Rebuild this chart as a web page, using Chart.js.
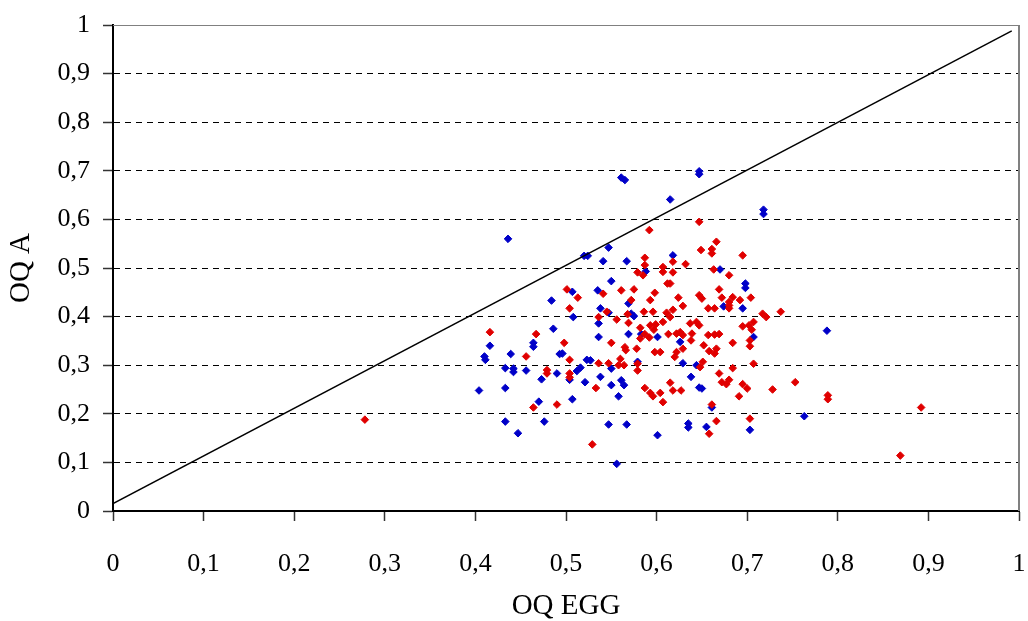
<!DOCTYPE html>
<html><head><meta charset="utf-8">
<script src="https://cdn.jsdelivr.net/npm/chart.js@4.4.0/dist/chart.umd.min.js"></script>
<style>html,body{margin:0;padding:0;background:#fff}#wrap{width:1028px;height:621px}</style>
</head><body><div id="wrap"><canvas id="c" width="1028" height="621"></canvas></div>
<script>
const tickValues = [0,0.1,0.2,0.3,0.4,0.5,0.6,0.7,0.8,0.9,1];
const tickLabels = ['0','0,1','0,2','0,3','0,4','0,5','0,6','0,7','0,8','0,9','1'];
const xTitle = 'OQ EGG';
const yTitle = 'OQ A';

const blueX = [0.436,0.484,0.486,0.416,0.464,0.464,0.410,0.411,0.439,0.493,0.433,0.442,0.442,0.456,0.490,0.473,0.404,0.433,0.470,0.433,0.476,0.447,
0.561,0.565,0.647,0.647,0.615,0.520,0.524,0.547,0.541,0.567,0.618,0.588,0.550,0.507,0.535,0.569,0.538,0.547,0.572,0.575,0.508,
0.536,0.536,0.569,0.601,0.583,0.626,0.496,0.523,0.527,0.579,0.629,0.644,0.550,0.504,0.512,0.516,0.521,0.538,0.550,0.561,0.564,0.558,0.638,0.647,0.650,0.507,0.547,0.567,0.601,0.635,0.635,0.655,0.556,
0.718,0.718,0.670,0.698,0.698,0.674,0.695,0.788,0.707,0.661,0.703,0.763];
const blueY = [0.560,0.433,0.375,0.340,0.346,0.338,0.318,0.311,0.323,0.323,0.294,0.293,0.286,0.289,0.283,0.271,0.248,0.253,0.225,0.184,0.184,0.160,
0.686,0.681,0.699,0.693,0.641,0.525,0.525,0.542,0.514,0.514,0.526,0.493,0.473,0.451,0.454,0.427,0.417,0.408,0.406,0.401,0.399,
0.386,0.358,0.364,0.358,0.364,0.348,0.324,0.311,0.310,0.307,0.304,0.300,0.293,0.270,0.288,0.295,0.265,0.276,0.259,0.269,0.259,0.236,0.276,0.254,0.252,0.230,0.178,0.178,0.156,0.180,0.172,0.173,0.097,
0.620,0.611,0.497,0.468,0.459,0.421,0.417,0.371,0.358,0.213,0.167,0.195];

const redX = [0.416,0.467,0.456,0.479,0.479,0.464,0.490,
0.647,0.592,0.649,0.587,0.618,0.632,0.587,0.579,0.585,0.607,0.607,0.618,0.612,0.615,0.501,0.513,0.541,0.561,0.575,0.598,0.624,0.647,0.650,0.629,0.572,0.593,0.504,0.545,0.568,0.586,0.596,0.611,0.618,0.615,0.556,0.536,0.657,
0.569,0.498,0.582,0.593,0.587,0.582,0.592,0.599,0.607,0.597,0.613,0.622,0.626,0.629,0.637,0.647,0.639,0.638,0.644,0.652,0.550,0.565,0.566,0.578,0.598,0.604,0.622,0.629,0.620,0.504,0.536,0.547,0.560,0.558,0.564,0.579,0.579,0.651,0.648,0.504,0.504,0.533,0.587,0.593,0.596,0.604,0.607,0.615,0.618,0.627,0.658,0.529,
0.666,0.661,0.661,0.695,0.663,0.680,0.669,0.672,0.684,0.692,0.704,0.680,0.680,0.680,0.664,0.717,0.721,0.737,
0.695,0.702,0.707,0.705,0.703,0.703,0.657,0.664,0.669,0.684,0.658,0.664,0.666,0.707,0.669,0.684,0.672,0.680,0.677,0.695,0.700,0.691,0.728,0.753,0.789,0.789,0.661,0.666,0.703,0.892,0.869,0.278];
const redY = [0.368,0.364,0.318,0.290,0.283,0.213,0.219,
0.595,0.578,0.537,0.521,0.513,0.508,0.506,0.491,0.485,0.502,0.492,0.491,0.468,0.468,0.456,0.439,0.447,0.454,0.456,0.449,0.439,0.444,0.437,0.422,0.434,0.434,0.417,0.410,0.405,0.410,0.410,0.408,0.414,0.399,0.394,0.399,0.417,
0.387,0.346,0.377,0.382,0.364,0.355,0.357,0.384,0.389,0.373,0.364,0.365,0.368,0.362,0.386,0.382,0.365,0.351,0.389,0.341,0.346,0.337,0.331,0.334,0.327,0.327,0.327,0.334,0.317,0.311,0.304,0.304,0.313,0.300,0.300,0.303,0.289,0.307,0.296,0.283,0.275,0.253,0.253,0.243,0.236,0.243,0.224,0.264,0.248,0.248,0.159,0.137,
0.554,0.539,0.530,0.526,0.497,0.485,0.456,0.439,0.440,0.434,0.439,0.430,0.423,0.417,0.417,0.406,0.399,0.410,
0.380,0.382,0.389,0.373,0.351,0.339,0.362,0.363,0.364,0.346,0.329,0.324,0.334,0.303,0.283,0.294,0.265,0.270,0.261,0.261,0.252,0.236,0.250,0.265,0.238,0.230,0.219,0.185,0.190,0.213,0.114,0.188];

const lineX = [0, 0.992];
const lineY = [0.015, 0.988];

const FONT = "'Liberation Serif', 'Times New Roman', serif";
const toPts = (xs, ys) => xs.map((x, i) => ({x: x, y: ys[i]}));
const labelFor = v => { const i = tickValues.findIndex(t => Math.abs(t - v) < 1e-9); return i >= 0 ? tickLabels[i] : ''; };

const frame = {
  id: 'frame',
  beforeDatasetsDraw(chart) {
    const {ctx, chartArea: a} = chart;
    ctx.save();
    ctx.strokeStyle = '#808080';
    ctx.lineWidth = 1;
    ctx.beginPath(); ctx.moveTo(a.left, a.top + 0.5); ctx.lineTo(a.right, a.top + 0.5); ctx.stroke();
    ctx.lineWidth = 2;
    ctx.beginPath(); ctx.moveTo(a.right, a.top); ctx.lineTo(a.right, a.bottom); ctx.stroke();
    ctx.restore();
  }
};

new Chart(document.getElementById('c'), {
  type: 'scatter',
  data: {
    datasets: [
      {type: 'line', data: toPts(lineX, lineY), showLine: true, borderColor: '#000', borderWidth: 1.5, pointRadius: 0, fill: false, tension: 0},
      {data: toPts(redX, redY), pointStyle: 'rectRot', pointRadius: 3.8, backgroundColor: '#e00000', borderColor: '#e00000', borderWidth: 1},
      {data: toPts(blueX, blueY), pointStyle: 'rectRot', pointRadius: 3.8, backgroundColor: '#0000c8', borderColor: '#0000c8', borderWidth: 1}
    ]
  },
  options: {
    responsive: false,
    animation: false,
    devicePixelRatio: 1,
    layout: {padding: {top: 25, right: 9, left: 0, bottom: 0}},
    plugins: {legend: {display: false}, tooltip: {enabled: false}},
    scales: {
      x: {
        type: 'linear', min: 0, max: 1,
        afterBuildTicks: s => { s.ticks = tickValues.map(v => ({value: v})); },
        afterFit: s => { s.height = 110; s.paddingLeft = 0; s.paddingRight = 0; },
        grid: {drawOnChartArea: false, drawTicks: true, tickLength: 10, tickColor: '#333', tickWidth: 1.5},
        border: {display: true, color: '#000', width: 2},
        ticks: {callback: v => labelFor(v), autoSkip: false, maxRotation: 0, padding: 28, color: '#000', font: {family: FONT, size: 26}},
        title: {display: true, text: xTitle, color: '#000', font: {family: FONT, size: 29, lineHeight: 1}, padding: {top: 0, bottom: 0}}
      },
      y: {
        type: 'linear', min: 0, max: 1,
        afterBuildTicks: s => { s.ticks = tickValues.map(v => ({value: v})); },
        afterFit: s => { s.width = 113; s.paddingTop = 0; s.paddingBottom = 0; },
        grid: {drawOnChartArea: true, drawTicks: true, tickLength: 10, tickColor: '#333', tickWidth: 1.5,
               color: c => (c.tick && c.tick.value >= 1) ? 'rgba(0,0,0,0)' : '#000', lineWidth: 1, tickBorderDash: []},
        border: {display: true, color: '#000', width: 2, dash: [6, 5]},
        ticks: {callback: v => labelFor(v), autoSkip: false, padding: 13, color: '#000', font: {family: FONT, size: 26}},
        title: {display: true, text: yTitle, color: '#000', font: {family: FONT, size: 29, lineHeight: 1}, padding: {top: 7, bottom: 0}}
      }
    }
  },
  plugins: [frame]
});
</script></body></html>
